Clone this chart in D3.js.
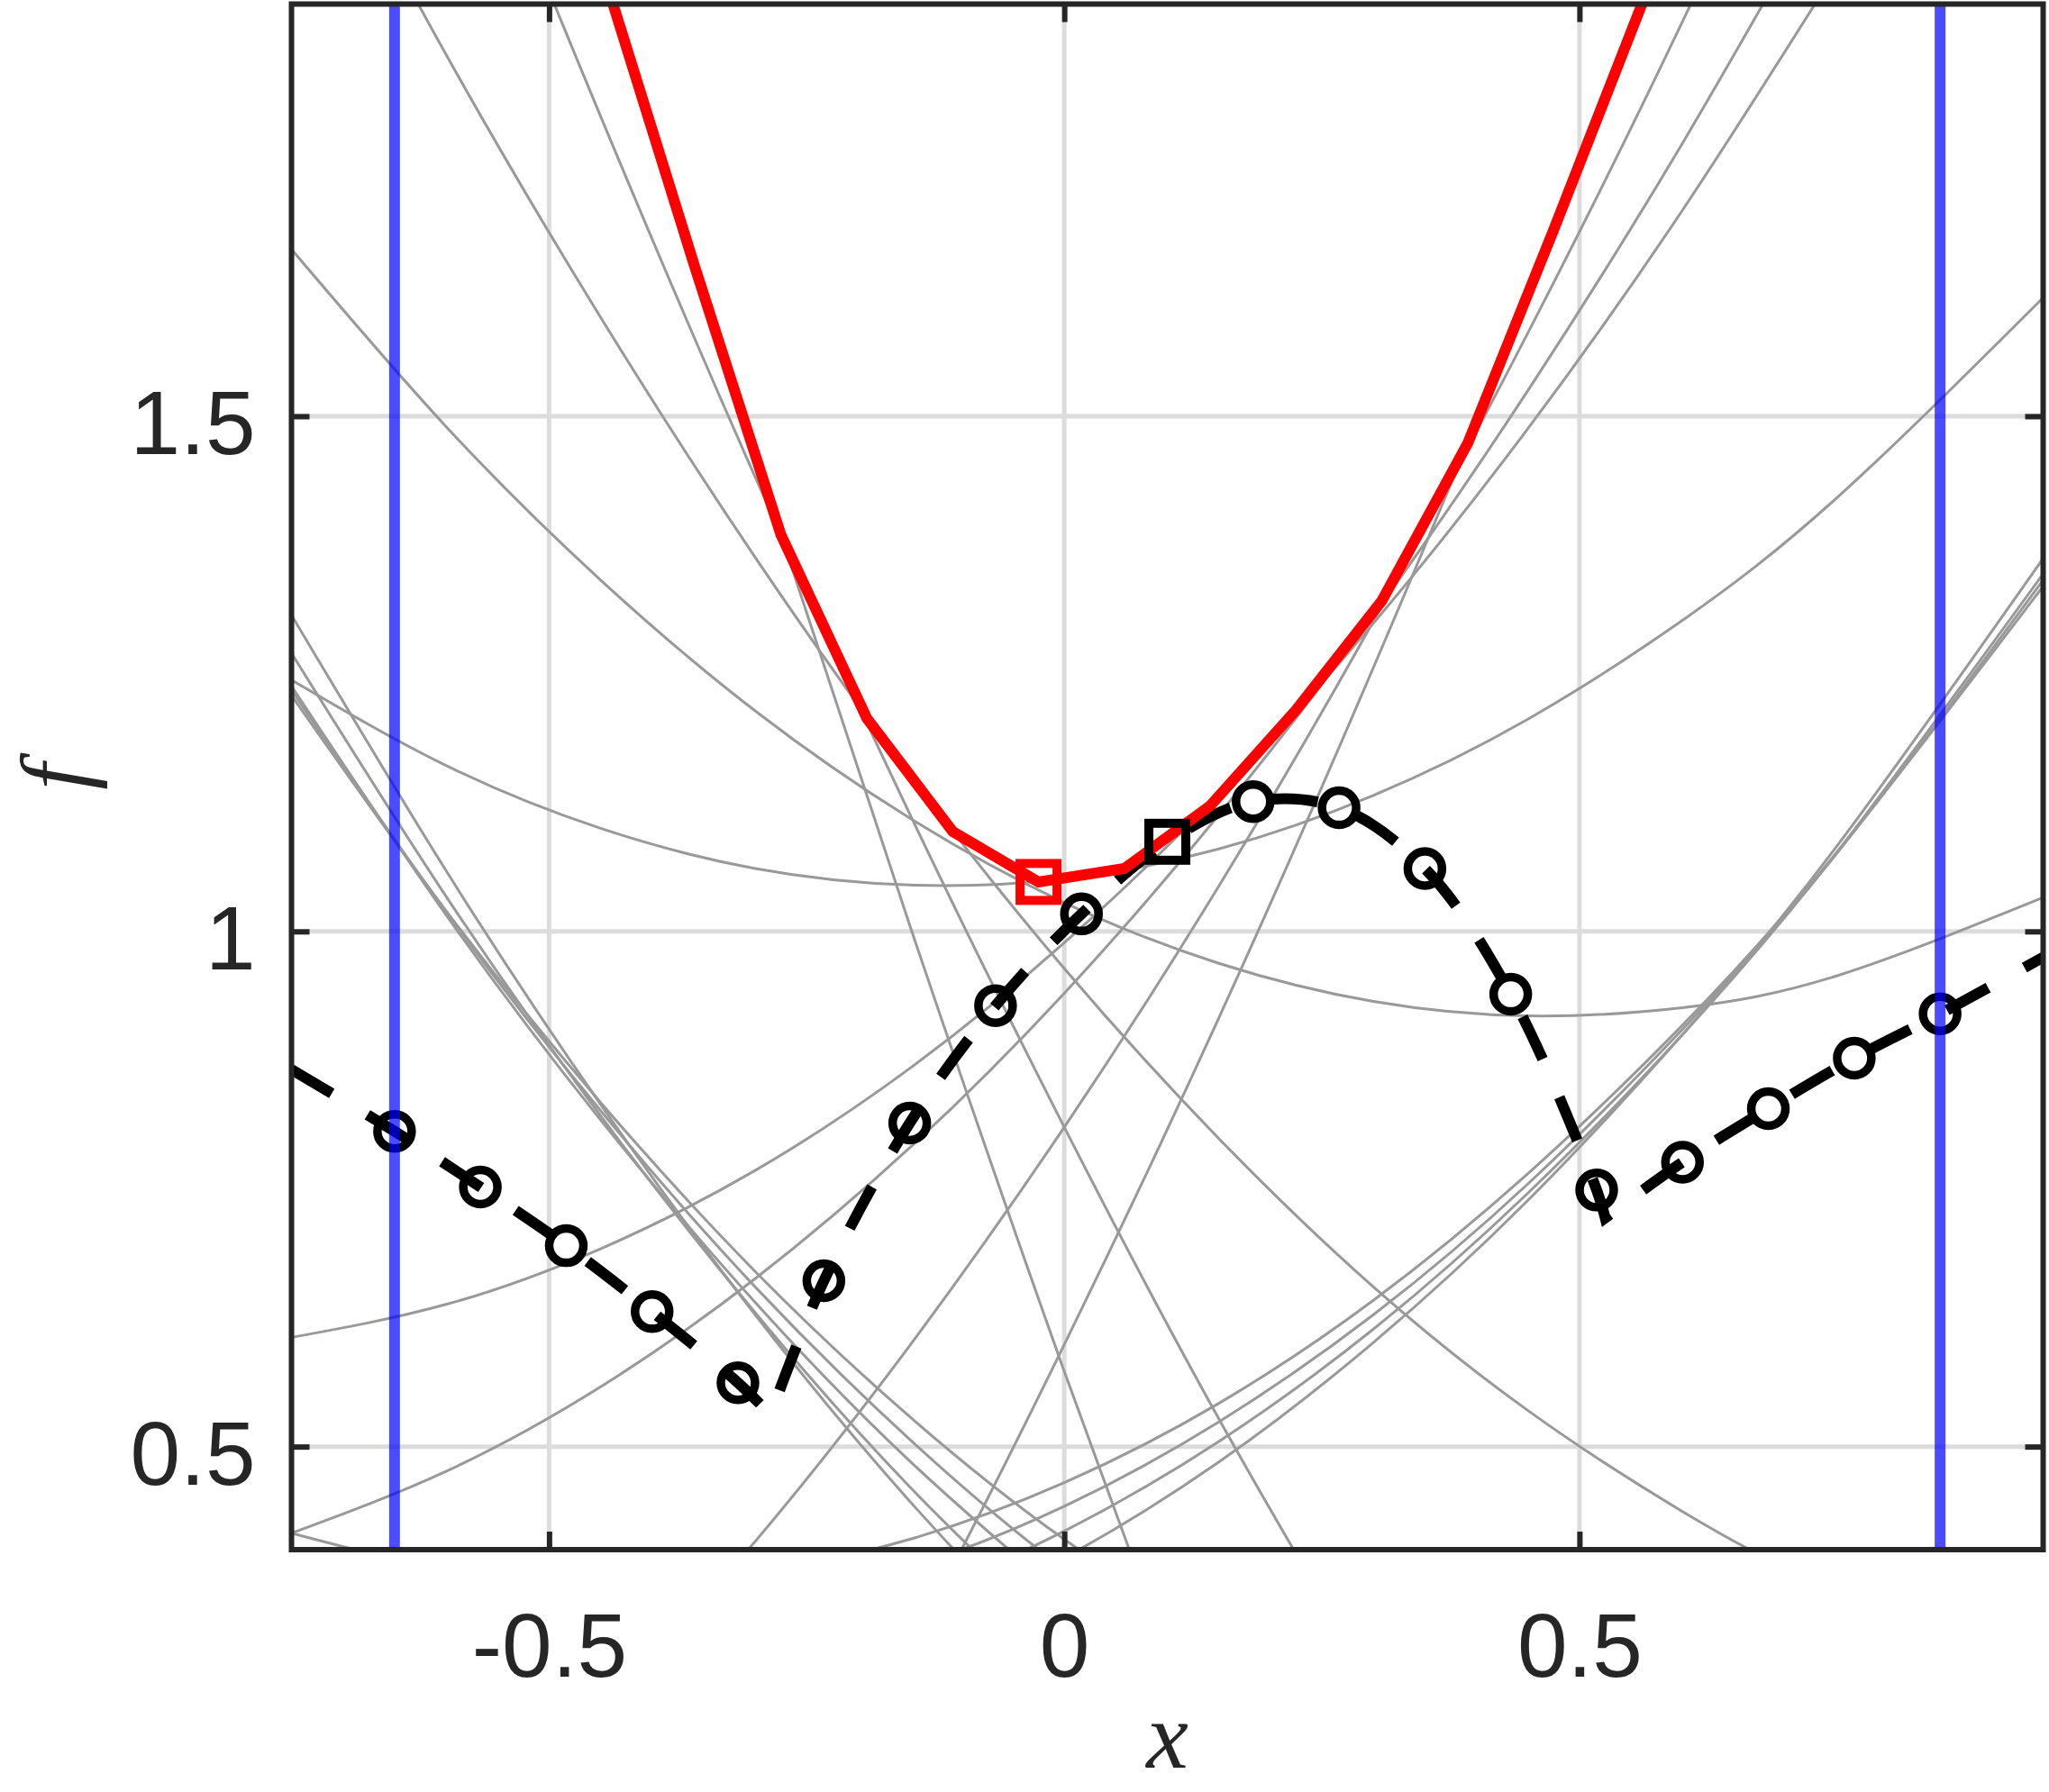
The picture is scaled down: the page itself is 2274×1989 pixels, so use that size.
<!DOCTYPE html>
<html>
<head>
<meta charset="utf-8">
<script src="https://cdn.jsdelivr.net/npm/d3@7"></script>
<style>
  html, body { margin: 0; padding: 0; background: #fff; }
  svg { display: block; }
</style>
</head>
<body>
<div id="chart"></div>
<script>
// Envelope of quadratic models around a sampled function, drawn with D3
const WIDTH = 2274;
const HEIGHT = 1989;

// --- data ---
const xTicks = [-0.5, 0, 0.5];
const yTicks = [0.5, 1, 1.5];

// common x positions for the gray model curves
const gridX = [-0.75, -0.6, -0.45, -0.3, -0.15, 0, 0.15, 0.3, 0.45, 0.6, 0.75, 0.95];

// gray curves, y at gridX (null = not needed)
const grayWide1  = [1.244, 1.161, 1.100, 1.061, 1.045, 1.051, 1.080, 1.132, 1.206, 1.302, 1.421, 1.615];
const grayWide2  = [1.662, 1.490, 1.341, 1.214, 1.110, 1.028, 0.969, 0.932, 0.918, 0.926, 0.957, 1.033];
const grayFall1  = [2.130, 1.851, 1.596, 1.363, 1.152, 0.964, 0.799, 0.655, 0.535, 0.437, 0.361, 0.295];
const grayFall2  = [2.557, 2.163, 1.791, 1.441, 1.114, 0.810, 0.527, 0.268, null, null, null, null];
const grayFall3  = [2.963, 2.440, 1.939, 1.461, 1.006, 0.573, 0.162, null, null, null, null, null];
const grayBundA1 = [1.307, 1.059, 0.832, 0.628, 0.447, 0.288, null, null, null, null, null, null];
const grayBundA2 = [1.270, 1.034, 0.821, 0.630, 0.461, 0.315, null, null, null, null, null, null];
const grayBundA3 = [1.238, 1.016, 0.817, 0.640, 0.486, 0.354, null, null, null, null, null, null];
const grayBundA4 = [1.234, 1.019, 0.826, 0.655, 0.507, 0.381, 0.278, null, null, null, null, null];
const grayBundA5 = [1.229, 1.020, 0.834, 0.670, 0.529, 0.410, 0.314, null, null, null, null, null];
const grayBundB1 = [0.416, 0.381, 0.368, 0.378, 0.410, 0.465, 0.542, 0.642, 0.765, 0.909, 1.077, 1.335];
const grayBundB2 = [null, null, null, 0.346, 0.383, 0.442, 0.524, 0.628, 0.755, 0.905, 1.076, 1.341];
const grayBundB3 = [null, null, null, 0.312, 0.354, 0.418, 0.505, 0.614, 0.746, 0.900, 1.077, 1.347];
const grayBundB4 = [null, null, null, 0.273, 0.321, 0.392, 0.485, 0.601, 0.739, 0.900, 1.083, 1.362];
const grayRise1  = [0.416, 0.476, 0.558, 0.663, 0.790, 0.940, 1.113, 1.307, 1.525, 1.765, 2.027, null];
const grayRise2  = [0.606, 0.638, 0.692, 0.768, 0.867, 0.989, 1.133, 1.299, 1.488, 1.700, 1.934, null];
const grayRise3  = [null, null, null, 0.032, 0.304, 0.599, 0.916, 1.256, 1.618, 2.003, null, null];
const grayRise4  = [null, null, 0.241, 0.408, 0.598, 0.810, 1.044, 1.301, 1.581, 1.883, 2.208, null];

const grayCurves = [grayWide1, grayWide2, grayFall1, grayFall2, grayFall3,
  grayBundA1, grayBundA2, grayBundA3, grayBundA4, grayBundA5,
  grayBundB1, grayBundB2, grayBundB3, grayBundB4,
  grayRise1, grayRise2, grayRise3, grayRise4];

// sampled function values (circles), index 9 is the incumbent (black square)
const sampleX = [-0.65, -0.5667, -0.4833, -0.4, -0.3167, -0.2333, -0.15, -0.0667, 0.0167, 0.1,
  0.1833, 0.2667, 0.35, 0.4333, 0.5167, 0.6, 0.6833, 0.7667, 0.85];
const sampleY = [0.806, 0.752, 0.695, 0.631, 0.562, 0.661, 0.814, 0.928, 1.017, 1.087,
  1.126, 1.120, 1.061, 0.939, 0.749, 0.776, 0.828, 0.877, 0.920];
const bestIndex = 9;

// extra points of the true function: plot edges and the two kinks
const fStart = [-0.75, 0.866];
const fKinkLeft = [-0.285, 0.531];
const fKinkRight = [0.525, 0.722];
const fEnd = [0.95, 0.975];

// red envelope at the midpoints
const redX = [-0.525, -0.4417, -0.3583, -0.275, -0.1917, -0.1083, -0.025, 0.0583, 0.1417,
  0.225, 0.3083, 0.3917, 0.475, 0.5583, 0.6417];
const redY = [2.19, 1.912, 1.644, 1.385, 1.207, 1.097, 1.048, 1.061, 1.122,
  1.215, 1.321, 1.474, 1.681, 1.894, 2.114];
const redBestIndex = 6;

// domain bounds (blue)
const boundsX = [-0.65, 0.85];

// --- drawing ---
const x = d3.scaleLinear().domain([-0.75, 0.95]).range([323.5, 2267.5]);
const y = d3.scaleLinear().domain([0.4, 1.9]).range([1720, 4.5]);

const AX = '#262626';

const svg = d3.select('#chart')
  .append('svg')
  .attr('width', WIDTH)
  .attr('height', HEIGHT)
  .attr('viewBox', `0 0 ${WIDTH} ${HEIGHT}`)
  .style('background', '#fff');

svg.append('defs').append('clipPath')
  .attr('id', 'plot-clip')
  .append('rect')
  .attr('x', x(-0.75))
  .attr('y', y(1.9))
  .attr('width', x(0.95) - x(-0.75))
  .attr('height', y(0.4) - y(1.9));

// grid
const grid = svg.append('g').attr('stroke', '#dcdcdc').attr('stroke-width', 5);
xTicks.forEach(t => {
  grid.append('line')
    .attr('x1', x(t)).attr('x2', x(t))
    .attr('y1', y(1.9)).attr('y2', y(0.4));
});
yTicks.forEach(t => {
  grid.append('line')
    .attr('x1', x(-0.75)).attr('x2', x(0.95))
    .attr('y1', y(t)).attr('y2', y(t));
});

const plot = svg.append('g').attr('clip-path', 'url(#plot-clip)');

// gray model curves
const grayLine = d3.line()
  .x(d => x(d[0]))
  .y(d => y(d[1]))
  .curve(d3.curveNatural);

plot.append('g')
  .selectAll('path')
  .data(grayCurves.map(ys => gridX.map((gx, i) => [gx, ys[i]]).filter(d => d[1] !== null)))
  .join('path')
  .attr('d', grayLine)
  .attr('fill', 'none')
  .attr('stroke', '#999999')
  .attr('stroke-width', 3);

// true function, black dashed, drawn as one path through three smooth pieces
const samples = sampleX.map((sx, i) => [sx, sampleY[i]]);
const pieces = [
  [fStart].concat(samples.slice(0, 5), [fKinkLeft]),
  [fKinkLeft].concat(samples.slice(5, 15), [fKinkRight]),
  [fKinkRight].concat(samples.slice(15), [fEnd])
];
const fLine = d3.line()
  .x(d => x(d[0]))
  .y(d => y(d[1]))
  .curve(d3.curveCatmullRom);
const fPath = pieces.map((p, i) => {
  const s = fLine(p);
  return i ? s.replace(/^M/, 'L') : s;
}).join('');

plot.append('path')
  .attr('d', fPath)
  .attr('fill', 'none')
  .attr('stroke', '#000')
  .attr('stroke-width', 12)
  .attr('stroke-dasharray', '52,46');

plot.append('g')
  .selectAll('circle')
  .data(samples.filter((d, i) => i !== bestIndex))
  .join('circle')
  .attr('cx', d => x(d[0]))
  .attr('cy', d => y(d[1]))
  .attr('r', 19)
  .attr('fill', 'none')
  .attr('stroke', '#000')
  .attr('stroke-width', 9.5);

// red envelope
const redLine = d3.line().x(d => x(d[0])).y(d => y(d[1]));
plot.append('path')
  .attr('d', redLine(redX.map((rx, i) => [rx, redY[i]])))
  .attr('fill', 'none')
  .attr('stroke', '#ff0000')
  .attr('stroke-width', 12)
  .attr('stroke-linejoin', 'miter');

const SQ = 41;
plot.append('rect')
  .attr('x', x(redX[redBestIndex]) - SQ / 2)
  .attr('y', y(redY[redBestIndex]) - SQ / 2)
  .attr('width', SQ).attr('height', SQ)
  .attr('fill', 'none')
  .attr('stroke', '#ff0000')
  .attr('stroke-width', 10);

plot.append('rect')
  .attr('x', x(sampleX[bestIndex]) - SQ / 2)
  .attr('y', y(sampleY[bestIndex]) - SQ / 2)
  .attr('width', SQ).attr('height', SQ)
  .attr('fill', 'none')
  .attr('stroke', '#000')
  .attr('stroke-width', 10);

// domain bounds
plot.append('g')
  .selectAll('line')
  .data(boundsX)
  .join('line')
  .attr('x1', d => x(d)).attr('x2', d => x(d))
  .attr('y1', y(1.9)).attr('y2', y(0.4))
  .attr('stroke', '#0000ff')
  .attr('stroke-opacity', 0.7)
  .attr('stroke-width', 12);

// axes
function styleAxis(g) {
  g.select('.domain').remove();
  g.attr('font-size', 100)
    .attr('font-family', '"Liberation Sans", Arial, Helvetica, sans-serif')
    .attr('color', AX);
  g.selectAll('.tick line').attr('stroke-width', 6);
  g.selectAll('.tick text').attr('fill', AX);
}

svg.append('g')
  .attr('transform', `translate(0,${y(0.4)})`)
  .call(d3.axisBottom(x).tickValues(xTicks).tickSizeInner(-20).tickSizeOuter(0)
    .tickPadding(70).tickFormat(d => String(d)))
  .call(styleAxis);

svg.append('g')
  .attr('transform', `translate(${x(-0.75)},0)`)
  .call(d3.axisLeft(y).tickValues(yTicks).tickSizeInner(-20).tickSizeOuter(0)
    .tickPadding(40).tickFormat(d => String(d)))
  .call(styleAxis)
  .call(g => g.selectAll('.tick text').attr('dy', '0.42em'));

svg.append('g')
  .attr('transform', `translate(0,${y(1.9)})`)
  .call(d3.axisTop(x).tickValues(xTicks).tickSizeInner(-20).tickSizeOuter(0).tickFormat(''))
  .call(styleAxis);

svg.append('g')
  .attr('transform', `translate(${x(0.95)},0)`)
  .call(d3.axisRight(y).tickValues(yTicks).tickSizeInner(-20).tickSizeOuter(0).tickFormat(''))
  .call(styleAxis);

// box
svg.append('rect')
  .attr('x', x(-0.75))
  .attr('y', y(1.9))
  .attr('width', x(0.95) - x(-0.75))
  .attr('height', y(0.4) - y(1.9))
  .attr('fill', 'none')
  .attr('stroke', AX)
  .attr('stroke-width', 6);

// axis labels
svg.append('text')
  .attr('x', (x(-0.75) + x(0.95)) / 2)
  .attr('y', 1962)
  .attr('text-anchor', 'middle')
  .attr('font-family', '"Liberation Serif", "Times New Roman", serif')
  .attr('font-style', 'italic')
  .attr('font-size', 105)
  .attr('fill', AX)
  .text('x');

svg.append('text')
  .attr('transform', `translate(96,${(y(0.4) + y(1.9)) / 2}) rotate(-90)`)
  .attr('text-anchor', 'middle')
  .attr('font-family', '"Liberation Serif", "Times New Roman", serif')
  .attr('font-style', 'italic')
  .attr('font-size', 105)
  .attr('fill', AX)
  .text('f');
</script>
</body>
</html>
